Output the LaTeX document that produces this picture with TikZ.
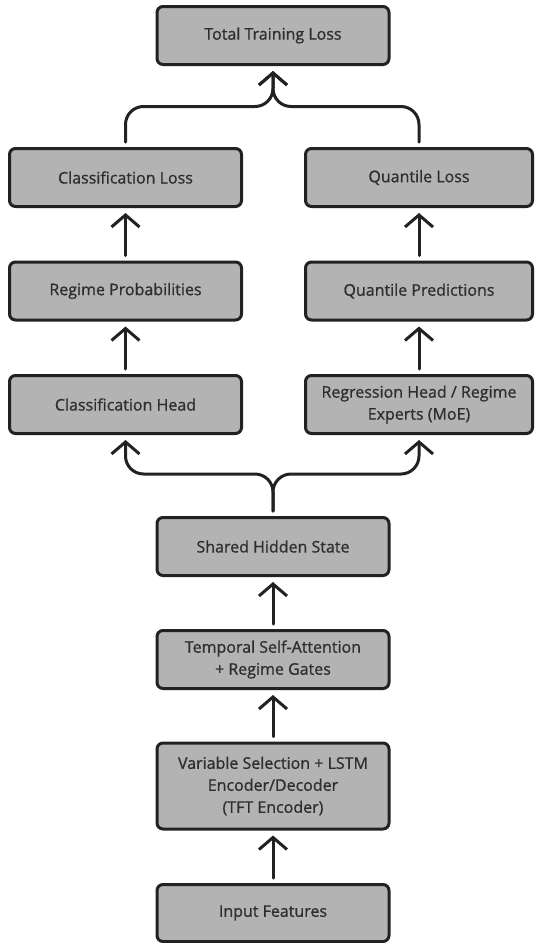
\documentclass[tikz,border=0pt]{standalone}
\usepackage{fontspec}
\setmainfont{Open Sans}[RawFeature={embolden=0.9}]
\usetikzlibrary{arrows.meta}
\definecolor{boxfill}{HTML}{B3B3B3}
\definecolor{boxline}{HTML}{222222}
\definecolor{txt}{HTML}{2E2E2E}
\tikzset{
  blk/.style={draw=boxline, fill=boxfill, line width=3pt, rounded corners=6pt,
    minimum height=58pt, align=center, text=txt, font=\fontsize{16}{22}\selectfont,
    inner sep=0pt},
  wideblk/.style={blk, minimum width=232pt},
  rblk/.style={blk, minimum width=227pt},
  conn/.style={draw=boxline, line width=3pt, line cap=round,
    -{Straight Barb[length=12pt,width=28pt,line width=3pt]},
    shorten >=5pt, shorten <=5pt},
  connc/.style={conn, rounded corners=18pt}
}
\begin{document}
\begin{tikzpicture}[x=1pt,y=-1pt]
\useasboundingbox (0,0) rectangle (535,943);
\node[wideblk] (total) at (273,35.5) {Total Training Loss};
\node[wideblk] (closs) at (125.5,177.5) {Classification Loss};
\node[rblk] (qloss) at (419,177.5) {Quantile Loss};
\node[wideblk] (rprob) at (125.5,291) {Regime Probabilities};
\node[rblk] (qpred) at (419,291) {Quantile Predictions};
\node[wideblk] (chead) at (125.5,404.5) {Classification Head};
\node[rblk] (rhead) at (419,404.5) {Regression Head / Regime\\Experts (MoE)};
\node[wideblk] (shared) at (273,546.5) {Shared Hidden State};
\node[wideblk] (temp) at (273,659.5) {Temporal Self-Attention\\+ Regime Gates};
\node[wideblk, minimum height=86pt] (vsel) at (273,786) {Variable Selection + LSTM\\Encoder/Decoder\\(TFT Encoder)};
\node[wideblk, minimum height=57pt] (input) at (273,913) {Input Features};

\coordinate (topj) at (273,106.5);
\coordinate (botj) at (273,474);

\draw[conn] (input) -- (vsel);
\draw[conn] (vsel) -- (temp);
\draw[conn] (temp) -- (shared);
\draw[connc] (shared.north) -- (botj) -- (botj -| chead.south) -- (chead.south);
\draw[connc] (shared.north) -- (botj) -- (botj -| rhead.south) -- (rhead.south);
\draw[conn] (chead) -- (rprob);
\draw[conn] (rhead) -- (qpred);
\draw[conn] (rprob) -- (closs);
\draw[conn] (qpred) -- (qloss);
\draw[connc] (closs.north) -- (topj -| closs.north) -- (topj) -- (total.south);
\draw[connc] (qloss.north) -- (topj -| qloss.north) -- (topj) -- (total.south);
\end{tikzpicture}
\end{document}
